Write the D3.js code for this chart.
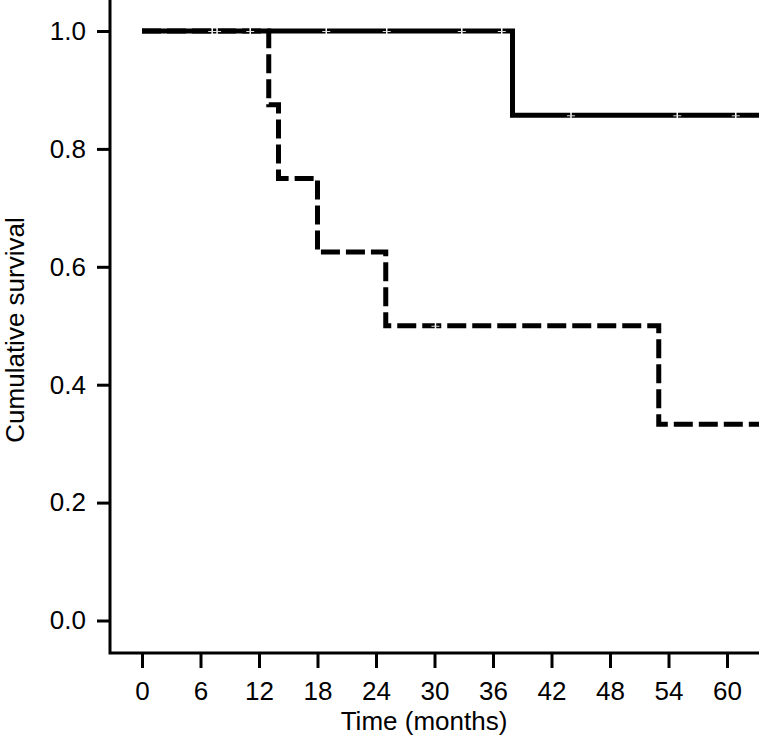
<!DOCTYPE html>
<html>
<head>
<meta charset="utf-8">
<script src="https://cdn.jsdelivr.net/npm/d3@7"></script>
<style>
  body { margin: 0; background: #fff; }
  svg { display: block; font-family: "Liberation Sans", Arial, sans-serif; }
</style>
</head>
<body>
<div id="chart"></div>
<script>
// Kaplan-Meier curves, two groups
const xTicks = [0, 6, 12, 18, 24, 30, 36, 42, 48, 54, 60];
const yTicks = [0.0, 0.2, 0.4, 0.6, 0.8, 1.0];

// solid group: event times and survival after each step
const solidTimes = [0, 38];
const solidSurv = [1.0, 0.857];
const solidCensor = [7.2, 7.7, 11.1, 18.9, 25.1, 32.8, 36.9, 44.0, 54.9, 60.9];

// dashed group
const dashedTimes = [0, 13, 14, 18, 25, 53];
const dashedSurv = [1.0, 0.875, 0.75, 0.625, 0.5, 0.333];
const dashedCensor = [30.1];

const endTime = 64;

const width = 759;
const height = 749;

// plot frame
const axisX = 110;   // y axis position
const axisY = 653;   // x axis position

const svg = d3.select('#chart')
  .append('svg')
  .attr('width', width)
  .attr('height', height);

// scales
const x = d3.scaleLinear().domain([0, 60]).range([142, 727]);
const y = d3.scaleLinear().domain([0, 1]).range([620.5, 31]);

// turn event table into step points, adding an end point
function stepPoints(times, surv) {
  const pts = times.map((t, i) => [t, surv[i]]);
  pts.push([endTime, surv[surv.length - 1]]);
  return pts;
}

// survival value at time t for the censor marks
function survAt(times, surv, t) {
  let s = surv[0];
  for (let i = 0; i < times.length; ++i) {
    if (times[i] <= t) s = surv[i];
  }
  return s;
}

const line = d3.line()
  .x(d => x(d[0]))
  .y(d => y(d[1]))
  .curve(d3.curveStepAfter);

// y axis
const yAxis = svg.append('g')
  .attr('transform', 'translate(' + axisX + ',0)')
  .call(d3.axisLeft(y)
    .tickValues(yTicks)
    .tickFormat(d3.format('.1f'))
    .tickSize(13)
    .tickSizeOuter(0)
    .tickPadding(11));
yAxis.select('.domain').remove();
yAxis.attr('font-size', 26).attr('font-family', null);
yAxis.selectAll('line').attr('stroke', '#000').attr('stroke-width', 3);
yAxis.selectAll('text').attr('fill', '#000');

// x axis
const xAxis = svg.append('g')
  .attr('transform', 'translate(0,' + axisY + ')')
  .call(d3.axisBottom(x)
    .tickValues(xTicks)
    .tickSize(15)
    .tickSizeOuter(0)
    .tickPadding(14));
xAxis.select('.domain').remove();
xAxis.attr('font-size', 26).attr('font-family', null);
xAxis.selectAll('line').attr('stroke', '#000').attr('stroke-width', 3);
xAxis.selectAll('text').attr('fill', '#000');

// axis frame lines
svg.append('path')
  .attr('d', 'M' + axisX + ',0 V' + axisY + ' H' + width)
  .attr('fill', 'none')
  .attr('stroke', '#000')
  .attr('stroke-width', 3)
  .attr('stroke-linejoin', 'miter');

// curves: dashed first so the solid one sits on top
svg.append('path')
  .datum(stepPoints(dashedTimes, dashedSurv))
  .attr('d', line)
  .attr('fill', 'none')
  .attr('stroke', '#000')
  .attr('stroke-width', 5)
  .attr('stroke-dasharray', '19,6');

svg.append('path')
  .datum(stepPoints(solidTimes, solidSurv))
  .attr('d', line)
  .attr('fill', 'none')
  .attr('stroke', '#000')
  .attr('stroke-width', 5);

// censor marks drawn as small white crosses on the lines
function drawCensor(times, surv, censor) {
  const g = svg.append('g')
    .attr('stroke', '#fff')
    .attr('stroke-width', 1.5);
  g.selectAll('line.v')
    .data(censor)
    .enter().append('line')
    .attr('class', 'v')
    .attr('x1', d => x(d))
    .attr('x2', d => x(d))
    .attr('y1', d => y(survAt(times, surv, d)) - 4)
    .attr('y2', d => y(survAt(times, surv, d)) + 4);
  g.selectAll('line.h')
    .data(censor)
    .enter().append('line')
    .attr('class', 'h')
    .attr('stroke', '#ddd')
    .attr('stroke-width', 1)
    .attr('x1', d => x(d) - 4)
    .attr('x2', d => x(d) + 4)
    .attr('y1', d => y(survAt(times, surv, d)) + 0.5)
    .attr('y2', d => y(survAt(times, surv, d)) + 0.5);
}
drawCensor(solidTimes, solidSurv, solidCensor);
drawCensor(dashedTimes, dashedSurv, dashedCensor);

// axis titles
svg.append('text')
  .attr('x', 424)
  .attr('y', 730)
  .attr('text-anchor', 'middle')
  .attr('font-size', 26)
  .text('Time (months)');

svg.append('text')
  .attr('transform', 'rotate(-90)')
  .attr('x', -330)
  .attr('y', 24)
  .attr('text-anchor', 'middle')
  .attr('font-size', 26)
  .text('Cumulative survival');
</script>
</body>
</html>
